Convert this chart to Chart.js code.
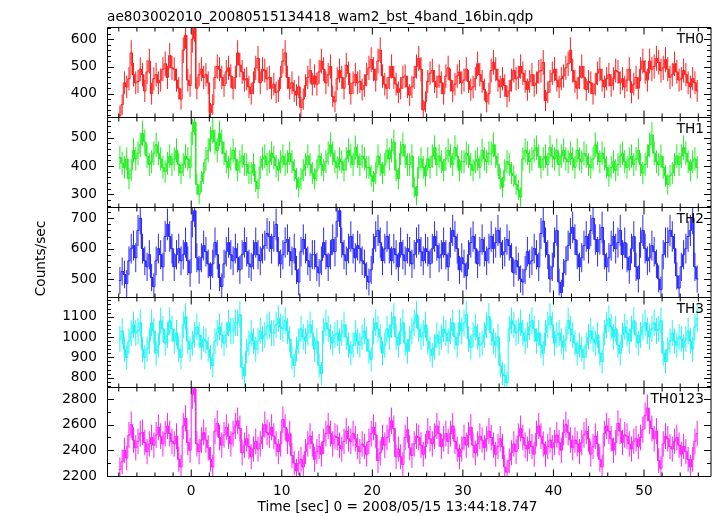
<!DOCTYPE html>
<html><head><meta charset="utf-8">
<script src="https://cdn.jsdelivr.net/npm/chart.js@4.4.1/dist/chart.umd.min.js"></script>
<style>
html,body{margin:0;padding:0;background:#fff;}
#wrap{position:relative;width:717px;height:516px;overflow:hidden;background:#fff;}
#wrap canvas{position:absolute;left:0;top:0;}
</style></head>
<body><div id="wrap"></div>
<script>
// ---- data: 1/64 s x 16 = 0.25 s bins, rates in counts/sec ----
const BIN = 0.25;
const TSTART = -7.875;
const th0 = [
320,360,440,425,455,550,470,440,445,490,470,410,480,520,400,455,470,440,450,490,
510,460,540,495,490,450,420,380,560,615,450,430,600,640,420,470,490,460,470,440,
330,360,460,500,490,460,430,480,495,465,420,460,550,505,480,450,455,425,400,440,
495,530,440,490,485,455,460,420,435,405,410,460,520,550,460,420,440,410,395,425,
350,380,430,460,485,435,465,435,480,520,490,440,470,500,390,370,455,485,460,420,
505,475,400,440,470,440,
445,415,430,470,495,525,490,450,520,560,465,435,420,460,500,460,435,405,420,460,
465,425,395,425,460,500,530,490,340,370,445,475,485,445,425,465,440,400,465,495,
450,410,435,465,480,440,450,490,445,415,425,455,510,470,445,415,370,400,485,515,
490,450,425,455,430,390,410,450,485,455,460,500,475,445,415,445,470,430,440,480,
485,515,375,405,445,475,490,450,425,455,465,495,510,560,485,445,420,460,500,460,
415,445,440,400,435,475,490,450,425,455,470,430,455,485,480,440,455,425,450,490,
405,435,460,420,490,520,480,450,520,490,500,530,515,485,495,525,490,460,470,510,
480,450,455,485,470,440,425,455,440,410];
const th1 = [
430,410,395,425,355,385,455,425,445,475,515,485,435,405,415,445,475,445,425,395,
380,410,435,405,425,455,405,375,405,435,425,395,520,555,335,300,345,375,425,455,
495,525,485,455,515,485,445,415,395,425,455,425,385,415,435,405,405,375,375,405,
345,320,395,425,435,405,415,445,430,400,385,415,435,405,415,445,415,385,355,325,
355,385,405,435,405,375,355,385,435,405,385,415,445,475,445,415,395,425,415,385,
425,455,435,405,465,435,
405,435,425,395,395,365,345,375,435,405,375,405,455,425,455,485,385,355,445,475,
435,405,405,435,325,295,395,425,395,365,425,395,435,465,405,435,415,385,425,455,
435,405,465,435,385,415,415,445,435,405,385,415,425,395,455,425,415,445,445,475,
435,405,355,325,385,415,405,375,365,335,315,290,425,455,445,415,425,455,465,435,
395,425,435,405,465,435,425,455,405,435,455,425,415,445,425,395,455,425,415,445,
435,405,395,425,475,445,415,445,425,395,365,395,415,385,405,435,445,415,395,425,
435,405,425,455,405,375,405,435,475,510,445,415,405,435,395,365,335,365,375,405,
435,405,435,465,445,415,385,415,425,395];
const th2 = [
495,525,515,485,560,600,610,570,660,700,600,560,540,580,505,475,560,600,580,540,
640,680,640,600,540,580,600,560,580,620,560,520,690,725,570,530,570,610,590,550,
510,550,620,580,505,475,550,590,620,580,560,600,570,530,580,620,590,550,540,580,
620,580,560,600,610,650,640,600,640,680,590,550,580,620,630,590,560,600,530,490,
590,630,600,560,540,580,580,540,520,560,620,580,540,580,630,590,690,725,620,580,
560,600,640,600,570,610,
600,560,550,510,490,530,600,640,660,620,560,600,640,600,560,600,580,540,620,580,
560,600,590,550,580,620,630,590,560,600,590,550,600,640,610,570,580,620,580,540,
620,660,640,600,530,570,550,510,580,620,640,600,550,590,630,590,560,600,640,600,
620,660,620,580,590,630,610,570,520,560,540,500,490,530,590,550,560,600,580,540,
650,690,620,580,500,540,620,660,490,455,520,560,610,650,670,630,580,540,570,610,
640,600,660,700,630,590,630,670,580,540,570,610,640,600,620,660,580,620,570,530,
600,640,540,500,620,660,600,560,570,610,590,550,500,465,580,620,620,660,640,600,
510,470,540,580,600,640,660,700,540,500];
const th3 = [
990,1030,940,900,980,1020,1060,1020,1030,1070,940,900,940,980,1070,1030,920,960,1080,1040,
970,1010,1080,1040,980,1020,940,900,1060,1100,980,940,970,1010,1050,1010,950,990,980,940,
900,860,980,1020,1050,1010,970,1010,1070,1030,1030,1070,1070,1110,850,810,930,970,1020,980,
940,980,1030,990,1010,1050,1060,1020,1020,1060,1090,1050,1040,1080,1030,990,900,860,940,980,
1040,1000,980,1020,1060,1020,940,980,860,820,1030,1070,1040,1000,970,1010,1020,980,1020,1060,
1000,960,920,960,1020,980,
960,1000,1030,990,930,890,1030,1070,1040,1000,920,960,1040,1000,1060,1100,1000,960,1030,1070,
970,930,990,1030,1070,1110,1040,1000,1020,1060,980,940,910,950,1010,970,1000,1040,1020,980,
1030,1070,1000,960,1070,1030,1070,1110,990,950,1010,1050,1000,960,970,1010,1060,1100,1020,980,
960,1000,860,820,810,775,1040,1080,1060,1020,1030,1070,1020,980,1010,1050,1080,1040,980,1020,
960,920,1020,1060,1100,1060,970,1010,1020,980,950,990,1080,1040,1010,970,920,960,940,900,
960,1000,1030,990,970,1010,920,880,1020,1060,1090,1050,1000,1040,960,920,1010,1050,1020,980,
1040,1080,1010,970,1010,1050,1070,1030,1000,1040,1070,1030,1040,1080,920,880,940,980,1020,980,
960,1000,990,950,990,1030,980,940,1050,1090];
const th0123 = [
2250,2310,2400,2340,2520,2600,2480,2420,2470,2530,2540,2460,2390,2450,2500,2440,2520,2580,2510,2450,
2530,2590,2530,2470,2450,2510,2330,2270,2590,2650,2460,2400,2830,2880,2450,2390,2480,2540,2480,2420,
2330,2270,2550,2610,2500,2440,2520,2580,2510,2450,2530,2590,2630,2570,2380,2440,2490,2430,2350,2410,
2470,2410,2450,2510,2600,2540,2520,2580,2510,2450,2390,2450,2640,2580,2470,2530,2360,2300,2240,2300,
2330,2270,2390,2450,2510,2450,2330,2390,2430,2370,2470,2530,2590,2530,2450,2510,2500,2440,2410,2470,
2550,2490,2470,2530,2490,2430,
2390,2450,2430,2370,2470,2530,2580,2520,2320,2380,2500,2440,2500,2560,2630,2570,2350,2410,2350,2290,
2500,2560,2420,2360,2450,2510,2500,2440,2370,2430,2550,2490,2450,2510,2590,2530,2430,2490,2530,2470,
2530,2590,2470,2410,2350,2410,2500,2440,2520,2580,2440,2380,2450,2510,2480,2420,2490,2550,2500,2440,
2370,2430,2490,2430,2270,2230,2320,2380,2450,2390,2510,2570,2500,2440,2410,2470,2430,2370,2530,2590,
2510,2450,2370,2430,2480,2420,2460,2520,2460,2400,2540,2600,2540,2480,2420,2480,2450,2390,2460,2520,
2550,2490,2370,2430,2510,2450,2330,2270,2530,2590,2550,2490,2400,2460,2610,2550,2460,2520,2510,2450,
2410,2470,2490,2430,2500,2560,2670,2730,2630,2570,2490,2550,2320,2260,2450,2510,2490,2430,2410,2470,
2500,2440,2370,2430,2390,2330,2270,2330,2470,2530];

const panelNames = ['TH0','TH1','TH2','TH3','TH0123'];
const panelValues = [th0, th1, th2, th3, th0123];
const panelColors = ['rgb(255,30,30)','rgb(30,240,30)','rgb(40,40,255)','rgb(30,245,245)','rgb(255,30,255)'];
const yMins = [312.5, 253.4, 439, 751.8, 2196];
const yMaxs = [643.4, 571.4, 735.6, 1194.4, 2889.6];
const yMajorStep = [100, 100, 100, 100, 200];
const yMinorStep = [20, 20, 20, 20, 100];
const yTickLabels = [[400,500,600],[300,400,500],[500,600,700],[800,900,1000,1100],[2200,2400,2600,2800]];
const xTickLabels = [0,10,20,30,40,50];
const X_MIN = -9.3, X_MAX = 57.4;
const TITLE = 'ae803002010_20080515134418_wam2_bst_4band_16bin.qdp';
const XTITLE = 'Time [sec] 0 = 2008/05/15 13:44:18.747';
const YTITLE = 'Counts/sec';

// ---- layout ----
const W = 717, H = 516;
const edges = [27.5, 117.5, 207.5, 297.5, 387.5, 476.5];
const FONT = 'DejaVu Sans';
const FS = 13.7;

function errPoints(vals){
  const pts = [];
  vals.forEach((v,i)=>{
    const t = TSTART + BIN*i;
    const e = Math.sqrt(v/BIN);   // Poisson error of the binned rate
    pts.push({x:t, y:v-e},{x:t, y:v+e},{x:t, y:null});
  });
  return pts;
}
function stepPoints(vals){
  const pts = [];
  vals.forEach((v,i)=>{
    const t = TSTART + BIN*i;
    pts.push({x:t-BIN/2, y:v},{x:t+BIN/2, y:v});
  });
  return pts;
}

const decor = {
  id:'decor',
  afterDatasetsDraw(chart, args, o){
    const {ctx, chartArea:a} = chart;
    const x = chart.scales.x, y = chart.scales.y;
    const k = o.k;
    ctx.save();
    ctx.strokeStyle = '#000'; ctx.lineWidth = 1;
    ctx.beginPath();
    ctx.rect(a.left+0.5, a.top, a.right-a.left-0.5, a.bottom-a.top);
    for (let v = Math.ceil(X_MIN/2)*2; v <= X_MAX; v += 2){
      const px = x.getPixelForValue(v);
      const L = (v % 10 === 0) ? 7 : 4;
      ctx.moveTo(px, a.top); ctx.lineTo(px, a.top+L);
      ctx.moveTo(px, a.bottom); ctx.lineTo(px, a.bottom-L);
    }
    const ms = yMinorStep[k];
    for (let v = Math.ceil(yMins[k]/ms)*ms; v <= yMaxs[k]; v += ms){
      const py = Math.round(y.getPixelForValue(v)) + 0.5;
      const L = (v % yMajorStep[k] === 0) ? 7 : 4;
      ctx.moveTo(a.left, py); ctx.lineTo(a.left+L, py);
      ctx.moveTo(a.right, py); ctx.lineTo(a.right-L, py);
    }
    ctx.stroke();
    ctx.fillStyle = '#000';
    ctx.font = FS + 'px "' + FONT + '"';
    ctx.textAlign = 'right'; ctx.textBaseline = 'alphabetic';
    ctx.fillText(panelNames[k], 704, a.top + 15);
    if (k === 4){
      ctx.textAlign = 'left';
      ctx.fillText(TITLE, 107, 21);
      ctx.textAlign = 'center';
      ctx.fillText(XTITLE, 397.5, 511);
      ctx.translate(45, 258.5);
      ctx.rotate(-Math.PI/2);
      ctx.fillText(YTITLE, 0, 0);
    }
    ctx.restore();
  }
};

const wrap = document.getElementById('wrap');
panelValues.forEach((vals, k)=>{
  const cv = document.createElement('canvas');
  cv.width = W; cv.height = H;
  cv.style.width = W+'px'; cv.style.height = H+'px';
  wrap.appendChild(cv);
  const last = (k === 4);
  const col = panelColors[k];
  new Chart(cv, {
    type:'line',
    data:{datasets:[
      {data: errPoints(vals), borderColor: col, borderWidth: 1, pointRadius: 0, spanGaps: false, fill: false},
      {data: stepPoints(vals), borderColor: col, borderWidth: 1, pointRadius: 0, fill: false}
    ]},
    options:{
      responsive:false, animation:false, devicePixelRatio:1, events:[],
      layout:{padding:{top: edges[k], bottom: last ? 0 : H - edges[k+1], left: 0, right: 6}},
      plugins:{legend:{display:false}, tooltip:{enabled:false}, decor:{k:k}},
      scales:{
        x:{type:'linear', min:X_MIN, max:X_MAX, display:last,
           grid:{display:false, drawTicks:false}, border:{display:false},
           ticks:{color:'#000', font:{family:FONT, size:FS}, padding:7, maxRotation:0, autoSkip:false,
                  callback:v=>String(v)},
           afterBuildTicks:s=>{ s.ticks = xTickLabels.map(v=>({value:v})); },
           afterFit:s=>{ s.height = last ? H - edges[5] : 0; s.paddingLeft = 0; s.paddingRight = 0; s.paddingTop = 0; s.paddingBottom = 0; }},
        y:{type:'linear', min:yMins[k], max:yMaxs[k],
           grid:{display:false, drawTicks:false}, border:{display:false},
           ticks:{color:'#000', font:{family:FONT, size:FS}, padding:10, autoSkip:false,
                  callback:v=>String(v)},
           afterBuildTicks:s=>{ s.ticks = yTickLabels[k].map(v=>({value:v})); },
           afterFit:s=>{ s.width = 107; s.paddingTop = 0; s.paddingBottom = 0; }}
      }
    },
    plugins:[decor]
  });
});
</script>
</body></html>
